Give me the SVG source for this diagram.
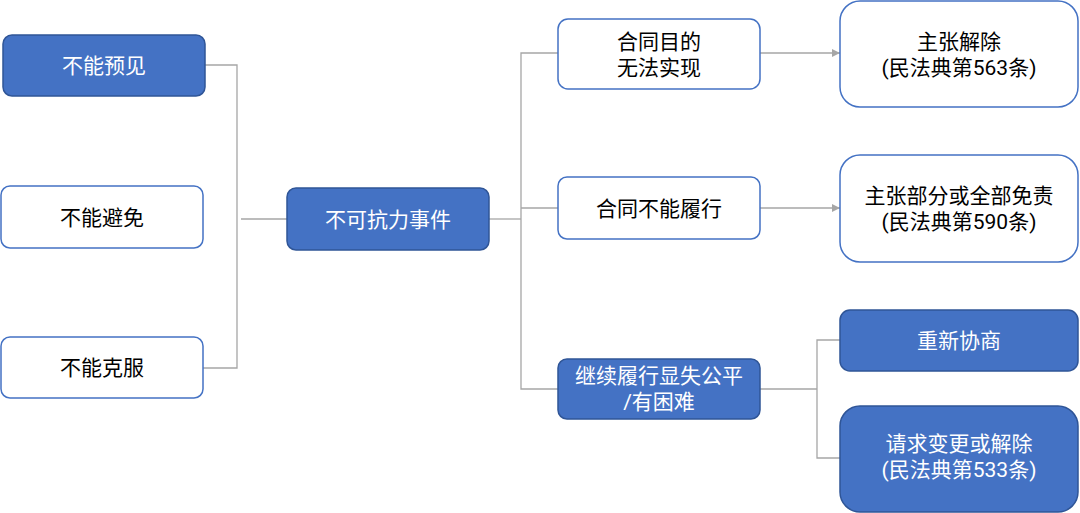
<svg xmlns="http://www.w3.org/2000/svg" width="1080" height="513" viewBox="0 0 1080 513">
<defs>
<style>
.blue{fill:#4472C4;stroke:#2F5597;stroke-width:1.5}
.white{fill:#FFFFFF;stroke:#4472C4;stroke-width:1.5}
text{font-family:Roboto,"Noto Sans CJK SC",sans-serif;font-size:21px;text-anchor:middle}
.tw{fill:#FFFFFF}
.tb{fill:#000000}
.conn{fill:none;stroke:#A6A6A6;stroke-width:1.3}
</style>
<marker id="arr" viewBox="0 0 10 10" refX="10" refY="5" markerWidth="8" markerHeight="8" markerUnits="userSpaceOnUse" orient="auto">
<path d="M0,0 L10,5 L0,10 z" fill="#A6A6A6"/>
</marker>
</defs>
<rect width="1080" height="513" fill="#FFFFFF"/>
<g id="connectors">
<polyline class="conn" points="205,65 237,65 237,368 203,368"/>
<line class="conn" x1="241" y1="219" x2="287" y2="219"/>
<line class="conn" x1="489" y1="219" x2="521" y2="219"/>
<polyline class="conn" points="558,53 521,53 521,389 558,389"/>
<line class="conn" x1="521" y1="208" x2="558" y2="208"/>
<line class="conn" x1="760" y1="53" x2="840" y2="53" marker-end="url(#arr)"/>
<line class="conn" x1="760" y1="208" x2="840" y2="208" marker-end="url(#arr)"/>
<line class="conn" x1="760" y1="389" x2="817" y2="389"/>
<polyline class="conn" points="840,340 817,340 817,458 840,458"/>
</g>
<g id="n1">
<rect class="blue" x="3" y="35" width="202" height="61" rx="9"/>
<text class="tw" x="104" y="73">不能预见</text>
</g>
<g id="n2">
<rect class="white" x="1" y="186" width="202" height="62" rx="9"/>
<text class="tb" x="102" y="225">不能避免</text>
</g>
<g id="n3">
<rect class="white" x="1" y="337" width="202" height="61" rx="9"/>
<text class="tb" x="102" y="375">不能克服</text>
</g>
<g id="n4">
<rect class="blue" x="287" y="188" width="202" height="62" rx="9"/>
<text class="tw" x="388" y="227">不可抗力事件</text>
</g>
<g id="n5">
<rect class="white" x="558" y="19" width="202" height="70" rx="10"/>
<text class="tb" x="659" y="49">合同目的<tspan x="659" dy="26">无法实现</tspan></text>
</g>
<g id="n6">
<rect class="white" x="558" y="177" width="202" height="62" rx="9"/>
<text class="tb" x="659" y="216">合同不能履行</text>
</g>
<g id="n7">
<rect class="blue" x="558" y="359" width="202" height="60" rx="9"/>
<text class="tw" x="659" y="383">继续履行显失公平<tspan x="659" dy="26">/有困难</tspan></text>
</g>
<g id="n8">
<rect class="white" x="840" y="1" width="238" height="106" rx="20"/>
<text class="tb" x="959" y="49">主张解除<tspan x="959" dy="26">(民法典第563条)</tspan></text>
</g>
<g id="n9">
<rect class="white" x="840" y="155" width="238" height="107" rx="20"/>
<text class="tb" x="959" y="203">主张部分或全部免责<tspan x="959" dy="26">(民法典第590条)</tspan></text>
</g>
<g id="n10">
<rect class="blue" x="840" y="310" width="238" height="61" rx="10"/>
<text class="tw" x="959" y="348">重新协商</text>
</g>
<g id="n11">
<rect class="blue" x="840" y="406" width="238" height="106" rx="20"/>
<text class="tw" x="959" y="451">请求变更或解除<tspan x="959" dy="26">(民法典第533条)</tspan></text>
</g>
</svg>
